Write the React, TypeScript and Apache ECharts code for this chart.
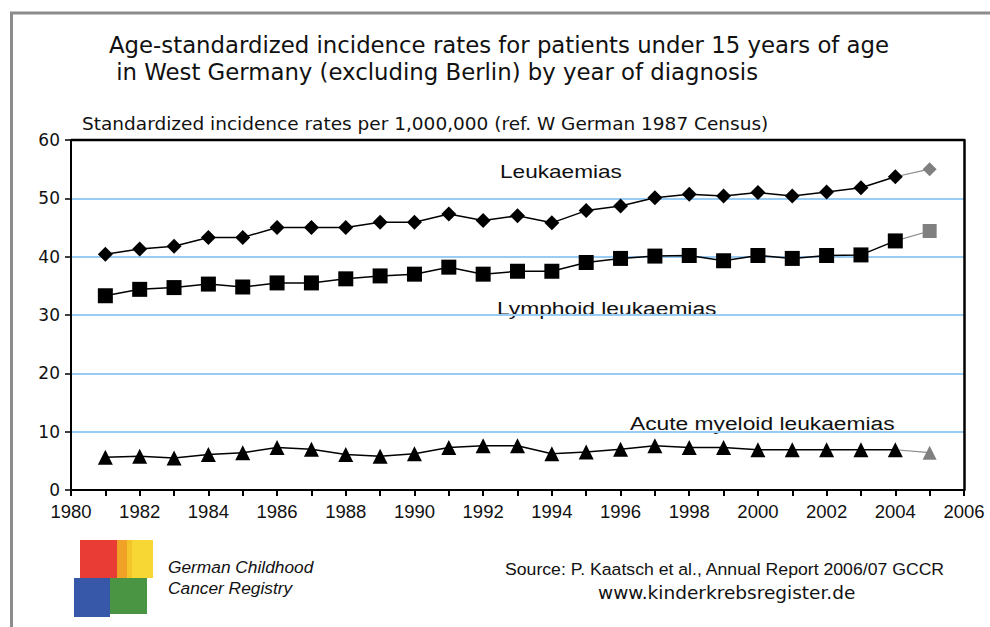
import React, { useEffect, useRef } from "react";
import * as echarts from "echarts";

const years = [1981, 1982, 1983, 1984, 1985, 1986, 1987, 1988, 1989, 1990, 1991, 1992, 1993, 1994, 1995, 1996, 1997, 1998, 1999, 2000, 2001, 2002, 2003, 2004];
const leukaemias = [40.4, 41.3, 41.8, 43.3, 43.3, 45.0, 45.0, 45.0, 45.9, 45.9, 47.3, 46.2, 47.0, 45.8, 47.9, 48.7, 50.1, 50.7, 50.4, 51.0, 50.4, 51.1, 51.8, 53.7];
const lymphoid = [33.3, 34.4, 34.7, 35.3, 34.8, 35.5, 35.5, 36.2, 36.7, 37.0, 38.2, 37.0, 37.5, 37.5, 39.0, 39.7, 40.1, 40.2, 39.3, 40.2, 39.7, 40.2, 40.3, 42.7];
const aml = [5.6, 5.8, 5.5, 6.1, 6.4, 7.3, 7.0, 6.1, 5.8, 6.2, 7.3, 7.6, 7.6, 6.2, 6.5, 7.0, 7.6, 7.3, 7.3, 6.9, 6.9, 6.9, 6.9, 6.9];
const provisionalYear = 2005;
const provLeukaemias = 55.0;
const provLymphoid = 44.4;
const provAml = 6.4;

const yTicks = [0, 10, 20, 30, 40, 50, 60];
const xTickLabels = [1980, 1982, 1984, 1986, 1988, 1990, 1992, 1994, 1996, 1998, 2000, 2002, 2004, 2006];

const titleLine1 = "Age-standardized incidence rates for patients under 15 years of age";
const titleLine2 = " in West Germany (excluding Berlin) by year of diagnosis";
const yAxisName = "Standardized incidence rates per 1,000,000 (ref. W German 1987 Census)";

export default function App() {
  const ref = useRef<HTMLDivElement>(null);
  useEffect(() => {
    if (!ref.current) return;
    const chart = echarts.init(ref.current, null, { renderer: "svg" });
    const mk = (vals: number[]) => years.map((y, i) => [y, vals[i]]);
    const lastYear = years[years.length - 1];
    const mainSeries = (name: string, vals: number[], symbol: string, size: number) => ({
      name,
      type: "line",
      data: mk(vals),
      symbol,
      symbolSize: size,
      lineStyle: { color: "#000", width: 1.5 },
      itemStyle: { color: "#000" },
      z: 3,
    });
    const provSeries = (name: string, lastVal: number, prov: number, symbol: string, size: number) => ({
      name: name + " (prov.)",
      type: "line",
      data: [
        { value: [lastYear, lastVal], symbol: "none" },
        { value: [provisionalYear, prov] },
      ],
      symbol,
      symbolSize: size,
      lineStyle: { color: "#8a8a8a", width: 1.2 },
      itemStyle: { color: "#808080" },
      z: 2,
    });
    const txt = (text: string, x: number, y: number, fontFamily: string, fontSize: number, scaleX = 1, italic = false) => ({
      type: "text",
      x,
      y,
      scaleX,
      style: { text, fontFamily, fontSize, fontStyle: italic ? "italic" : "normal", fill: "#111", textVerticalAlign: "middle" },
    });
    const gridLeft = 71;
    const gridTop = 140;
    const gridRight = 26;
    chart.setOption({
      animation: false,
      backgroundColor: "#fff",
      grid: { left: gridLeft, top: gridTop, right: gridRight, bottom: 137 },
      xAxis: [
        {
          type: "value",
          min: 1980,
          max: 2006,
          interval: 1,
          axisLine: { show: true, lineStyle: { color: "#000", width: 2 } },
          axisTick: { show: true, length: 6, lineStyle: { color: "#000", width: 2 } },
          splitLine: { show: false },
          axisLabel: {
            margin: 12,
            color: "#111",
            fontFamily: "Liberation Sans",
            fontSize: 18.5,
            formatter: (v: number) => (xTickLabels.indexOf(v) >= 0 ? String(v) : ""),
          },
        },
      ],
      yAxis: [
        {
          type: "value",
          min: yTicks[0],
          max: yTicks[yTicks.length - 1],
          interval: 10,
          axisLine: { show: true, lineStyle: { color: "#000", width: 2 } },
          axisTick: { show: true, length: 6, lineStyle: { color: "#000", width: 1.5 } },
          splitLine: { show: true, lineStyle: { color: "#99ccf5", width: 2 } },
          axisLabel: {
            margin: 11,
            color: "#111",
            fontFamily: "DejaVu Sans",
            fontSize: 17,
          },
        },
        {
          type: "value",
          position: "right",
          min: yTicks[0],
          max: yTicks[yTicks.length - 1],
          interval: 10,
          axisLine: { show: true, onZero: false, lineStyle: { color: "#000", width: 2.5 } },
          axisTick: { show: false },
          axisLabel: { show: false },
          splitLine: { show: false },
        },
      ],
      series: [
        mainSeries("Leukaemias", leukaemias, "diamond", 15),
        mainSeries("Lymphoid leukaemias", lymphoid, "rect", 15),
        mainSeries("Acute myeloid leukaemias", aml, "triangle", 15),
        provSeries("Leukaemias", leukaemias[leukaemias.length - 1], provLeukaemias, "diamond", 14),
        provSeries("Lymphoid leukaemias", lymphoid[lymphoid.length - 1], provLymphoid, "rect", 14),
        provSeries("Acute myeloid leukaemias", aml[aml.length - 1], provAml, "triangle", 14),
      ],
      graphic: [
        { type: "rect", shape: { x: 11.5, y: 13, width: 1000, height: 700 }, style: { fill: "none", stroke: "#8c8c8c", lineWidth: 3 }, z: 0 },
        { type: "line", shape: { x1: gridLeft, y1: gridTop, x2: 990 - gridRight, y2: gridTop }, style: { stroke: "#000", lineWidth: 2.5 }, z: 100 },
        txt(titleLine1, 109, 45, "DejaVu Sans", 22.8),
        txt(titleLine2, 109, 72, "DejaVu Sans", 22.8),
        txt(yAxisName, 82, 123, "DejaVu Sans", 18.5),
        txt("Leukaemias", 500, 171, "Liberation Sans", 19, 1.19),
        txt("Lymphoid leukaemias", 497, 308, "Liberation Sans", 19, 1.2),
        txt("Acute myeloid leukaemias", 630, 423, "Liberation Sans", 19, 1.2),
        txt("Source: P. Kaatsch et al., Annual Report 2006/07 GCCR", 505, 570, "Liberation Sans", 16.5, 1.07),
        txt("www.kinderkrebsregister.de", 598, 593, "DejaVu Sans", 17, 1.09),
        txt("German Childhood", 168, 568, "Liberation Sans", 16.5, 1.05, true),
        txt("Cancer Registry", 168, 589, "Liberation Sans", 16.5, 1.05, true),
        { type: "rect", shape: { x: 80, y: 540, width: 37, height: 38 }, style: { fill: "#e8322a", opacity: 0.95 } },
        { type: "rect", shape: { x: 117, y: 540, width: 36, height: 38 }, style: { fill: "#f3c21f", opacity: 0.95 } },
        { type: "rect", shape: { x: 74, y: 578, width: 36, height: 39 }, style: { fill: "#2c4fa3", opacity: 0.95 } },
        { type: "rect", shape: { x: 110, y: 578, width: 37, height: 36 }, style: { fill: "#3f8f3a", opacity: 0.95 } },
        { type: "rect", shape: { x: 132, y: 540, width: 21, height: 38 }, style: { fill: "#f7e23a", opacity: 0.6 } },
        { type: "rect", shape: { x: 117, y: 540, width: 10, height: 38 }, style: { fill: "#ef8a25", opacity: 0.6 } },
      ],
    });
    return () => chart.dispose();
  }, []);
  return <div ref={ref} style={{ position: "fixed", left: 0, top: 0, width: 990, height: 627 }} />;
}
